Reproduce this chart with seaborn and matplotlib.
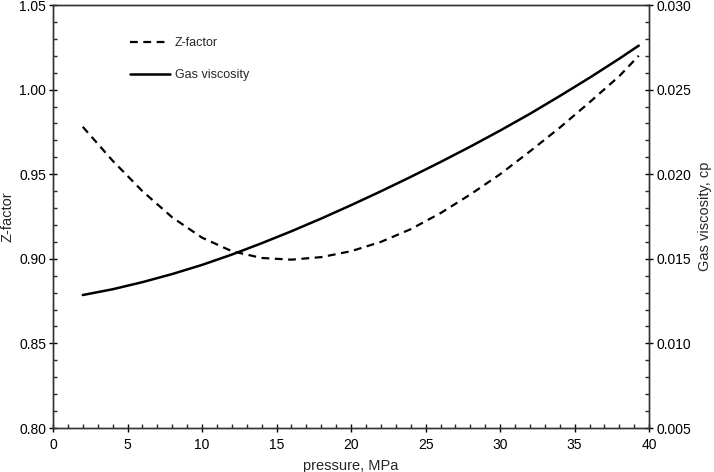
import numpy as np
import pandas as pd
import matplotlib
matplotlib.use("Agg")
import matplotlib.pyplot as plt
import seaborn as sns
from matplotlib.ticker import MultipleLocator, FormatStrFormatter

sns.set_style("white")
plt.rcParams['font.family'] = ['Liberation Sans', 'DejaVu Sans']

# Data
pressure = [2, 4, 6, 8, 10, 12, 14, 16, 18, 20, 22, 24, 26, 28, 30, 32, 34, 36, 38, 39.3]
z_factor = [0.978, 0.958, 0.940, 0.9245, 0.9125, 0.9045, 0.9005, 0.8995, 0.901, 0.9045,
            0.910, 0.9175, 0.927, 0.938, 0.950, 0.9635, 0.9775, 0.9925, 1.008, 1.020]
gas_visc = [0.01286, 0.01320, 0.01362, 0.01410, 0.01464, 0.01525, 0.01592, 0.01663,
            0.01738, 0.01817, 0.01899, 0.01984, 0.02072, 0.02163, 0.02258, 0.02357,
            0.02462, 0.02570, 0.02683, 0.02760]

df = pd.DataFrame({"pressure": pressure, "z": z_factor, "mu": gas_visc})

fig = plt.figure(figsize=(7.14, 4.72), dpi=100)
ax = fig.add_axes([0.0742, 0.0932, 0.835, 0.8962])
ax2 = ax.twinx()

sns.lineplot(data=df, x="pressure", y="z", ax=ax, color="black", lw=1.6,
             linestyle=(0, (3.5, 2.5)), label="Z-factor", legend=False)
sns.lineplot(data=df, x="pressure", y="mu", ax=ax2, color="black", lw=1.8,
             label="Gas viscosity", legend=False)

ax.set_xlim(0, 40)
ax.set_ylim(0.80, 1.05)
ax2.set_ylim(0.005, 0.030)

ax.xaxis.set_major_locator(MultipleLocator(5))
ax.xaxis.set_minor_locator(MultipleLocator(1))
ax.yaxis.set_major_locator(MultipleLocator(0.05))
ax.yaxis.set_minor_locator(MultipleLocator(0.01))
ax.yaxis.set_major_formatter(FormatStrFormatter("%.2f"))
ax2.yaxis.set_major_locator(MultipleLocator(0.005))
ax2.yaxis.set_minor_locator(MultipleLocator(0.001))
ax2.yaxis.set_major_formatter(FormatStrFormatter("%.3f"))

for a in (ax, ax2):
    a.tick_params(which="major", direction="inout", length=6, width=1, labelsize=10,
                  colors="black", pad=2)
    a.tick_params(which="minor", direction="in", length=3, width=1)
    for s in a.spines.values():
        s.set_color("#333333")
        s.set_linewidth(1)
ax.tick_params(axis="y", which="both", left=True, right=False)
ax.tick_params(axis="x", which="both", bottom=True, top=False, pad=4)
ax2.tick_params(axis="y", which="both", right=True, left=False)

ax.set_xlabel("pressure, MPa", fontsize=10.5, labelpad=5)
ax.set_ylabel("Z-factor", fontsize=10.5, labelpad=3)
ax2.set_ylabel("Gas viscosity, cp", fontsize=10.5, labelpad=5)

h1, l1 = ax.get_legend_handles_labels()
h2, l2 = ax2.get_legend_handles_labels()
ax2.legend(h1 + h2, l1 + l2, loc="upper left", bbox_to_anchor=(0.11, 0.95),
           frameon=False, fontsize=9, handlelength=3.2, labelspacing=1.6, handletextpad=0.4)

fig.savefig("out.png", dpi=100)
